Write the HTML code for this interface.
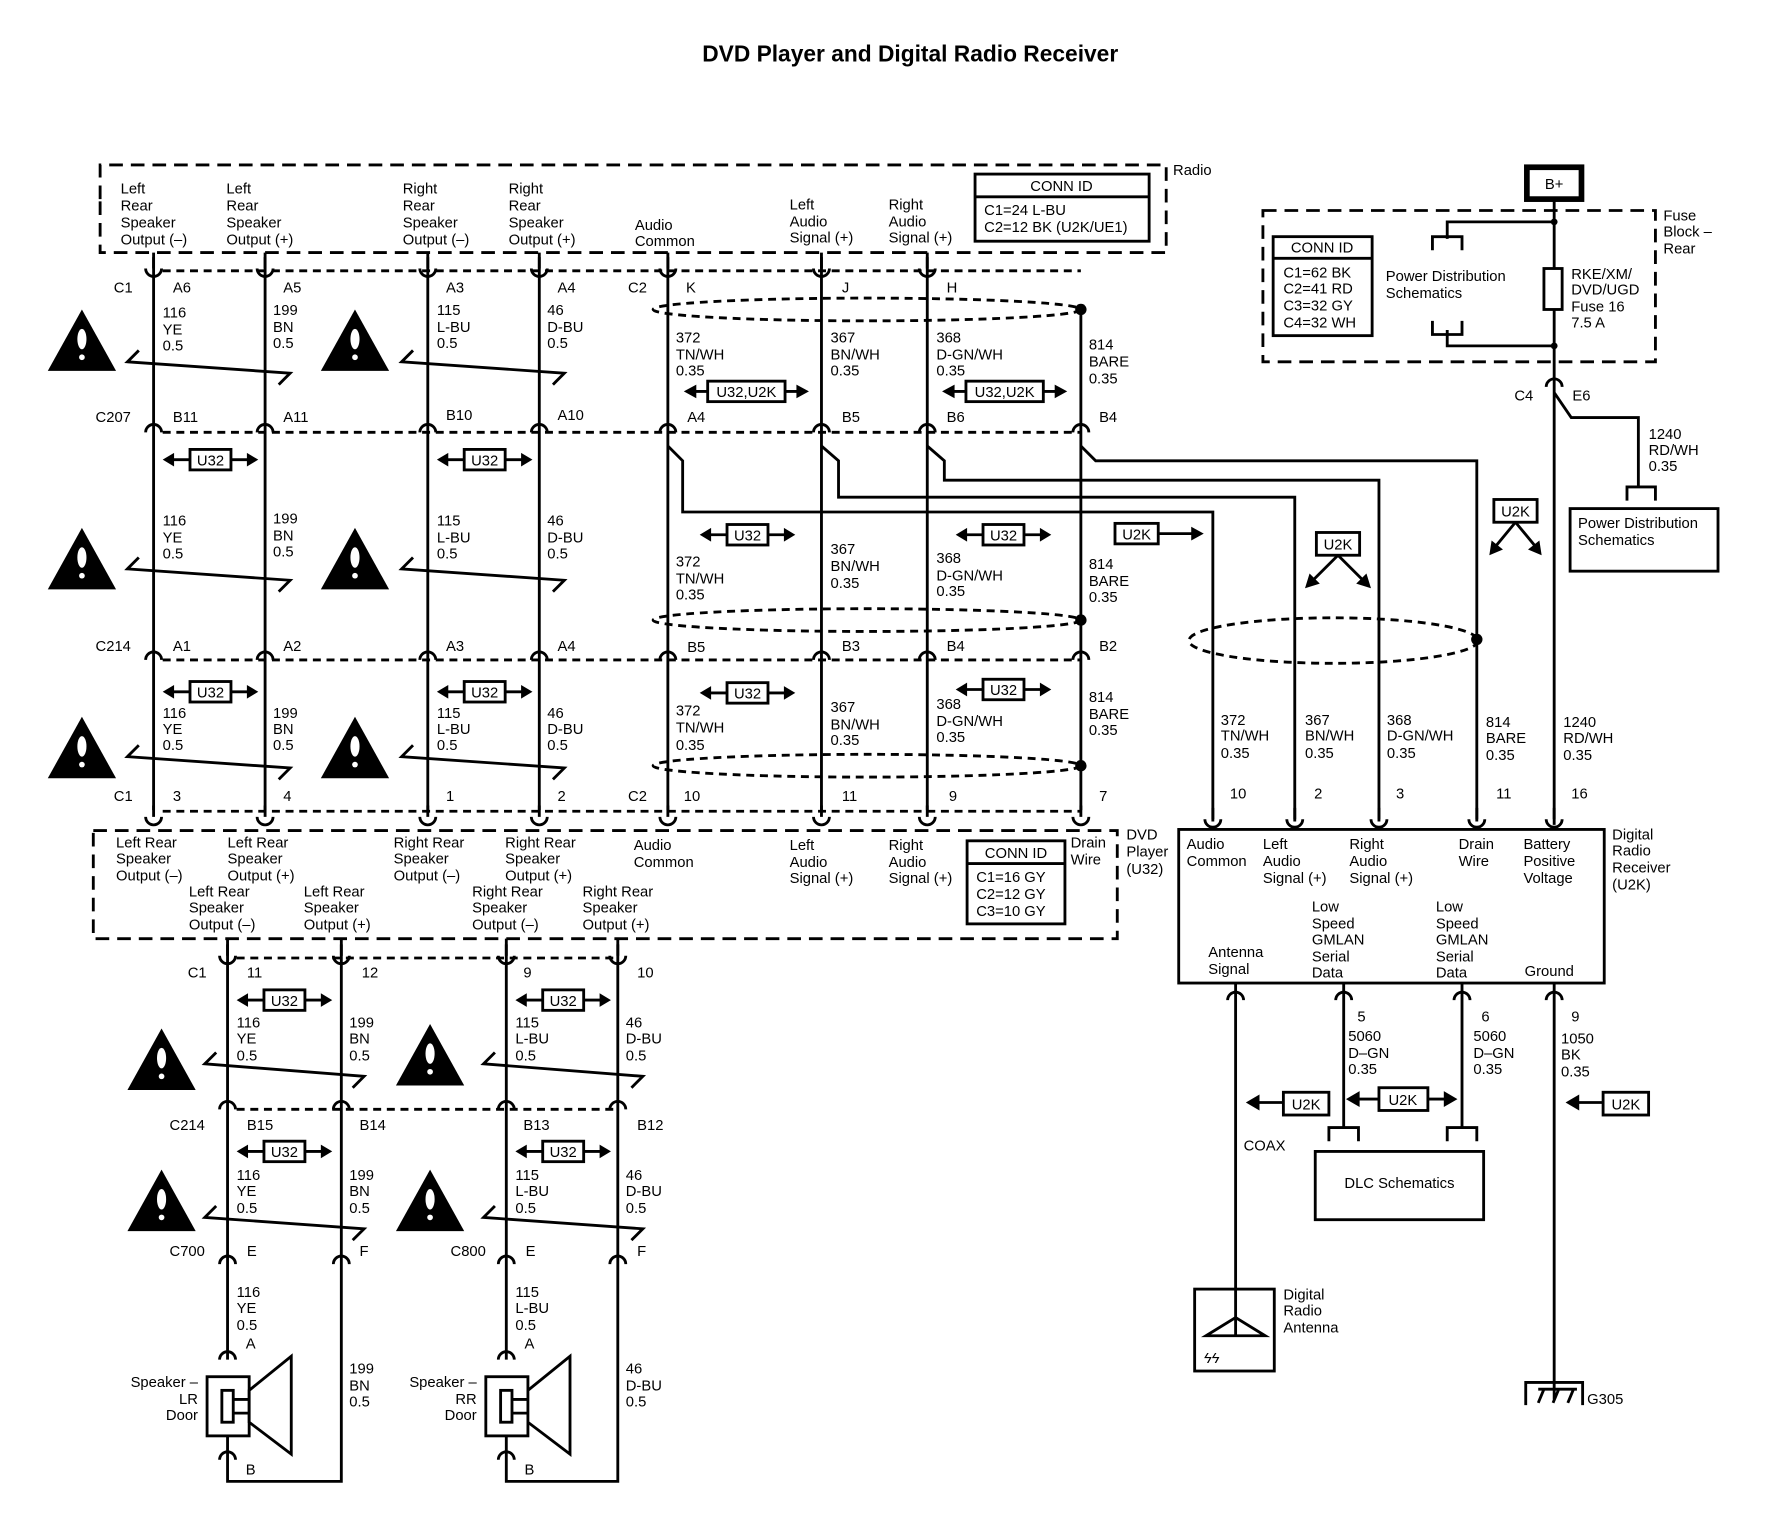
<!DOCTYPE html>
<html><head><meta charset="utf-8"><style>
html,body{margin:0;padding:0;background:#fff}
svg{display:block}
text{font-family:"Liberation Sans",sans-serif;font-size:13px;fill:#000}
.t{font-size:20px;font-weight:bold}
.w{stroke:#000;stroke-width:2.5;fill:none}
.d{stroke:#000;stroke-width:2.5;fill:none;stroke-dasharray:12,7}
.ds{stroke:#000;stroke-width:2.5;fill:none;stroke-dasharray:7,5}
.b{stroke:#000;stroke-width:2.5;fill:#fff}
</style></head><body>
<svg width="1784" height="1536" viewBox="0 0 1568 1350" preserveAspectRatio="none" xmlns="http://www.w3.org/2000/svg">
<defs>
<path id="cup" d="M-7,7 A7,7 0 0 1 7,7" class="w"/>
<path id="cupd" d="M-7,-4 A7,7 0 0 0 7,-4 M0,-14 V-4" class="w" stroke-width="2.5"/>
<g id="warn"><polygon points="0,-28 30,26 -30,26" fill="#000"/><ellipse cx="0" cy="-2" rx="4" ry="9" fill="#fff"/><circle cx="0" cy="14" r="2.5" fill="#fff"/></g>
<g id="u32"><path d="M-34,0 H34" class="w"/><path d="M-42,0 l10,-6 v12z M42,0 l-10,-6 v12z" fill="#000"/><rect x="-18" y="-9" width="36" height="18" class="b"/><text x="0" y="5" text-anchor="middle">U32</text></g>
<g id="u32w"><path d="M-46,0 H46" class="w"/><path d="M-55,0 l11,-6 v12z M55,0 l-11,-6 v12z" fill="#000"/><rect x="-34" y="-9" width="68" height="18" class="b"/><text x="0" y="5" text-anchor="middle">U32,U2K</text></g>
</defs>

<text class="t" x="800" y="54" text-anchor="middle">DVD Player and Digital Radio Receiver</text>

<path class="d" d="M88,175 V145 H1025 V222 H88 V175"/>
<text x="1031" y="154">Radio</text>
<rect x="857" y="153" width="153" height="59" class="b"/><line x1="857" y1="173" x2="1010" y2="173" class="w"/>
<text x="933" y="168" text-anchor="middle">CONN ID</text>
<text x="865" y="189">C1=24 L-BU</text><text x="865" y="204">C2=12 BK (U2K/UE1)</text>
<g>
<text x="106" y="170">Left</text><text x="106" y="185">Rear</text><text x="106" y="200">Speaker</text><text x="106" y="215">Output (–)</text>
<text x="199" y="170">Left</text><text x="199" y="185">Rear</text><text x="199" y="200">Speaker</text><text x="199" y="215">Output (+)</text>
<text x="354" y="170">Right</text><text x="354" y="185">Rear</text><text x="354" y="200">Speaker</text><text x="354" y="215">Output (–)</text>
<text x="447" y="170">Right</text><text x="447" y="185">Rear</text><text x="447" y="200">Speaker</text><text x="447" y="215">Output (+)</text>
<text x="558" y="202">Audio</text><text x="558" y="216">Common</text>
<text x="694" y="184">Left</text><text x="694" y="199">Audio</text><text x="694" y="213">Signal (+)</text>
<text x="781" y="184">Right</text><text x="781" y="199">Audio</text><text x="781" y="213">Signal (+)</text>
</g>

<g class="w">
<path d="M135,222V712M233,222V712M376,222V712M474,222V712M587,222V712M722,222V712M815,222V712M950,272V712"/>
</g>
<path class="ds" d="M143,238H950 M143,380H950 M143,580H950 M143,713H950"/>
<g fill="#fff">
<use href="#cupd" x="135" y="240"/><use href="#cupd" x="233" y="240"/><use href="#cupd" x="376" y="240"/><use href="#cupd" x="474" y="240"/><use href="#cupd" x="587" y="240"/><use href="#cupd" x="722" y="240"/><use href="#cupd" x="815" y="240"/>
<use href="#cup" x="135" y="373"/><use href="#cup" x="233" y="373"/><use href="#cup" x="376" y="373"/><use href="#cup" x="474" y="373"/><use href="#cup" x="587" y="373"/><use href="#cup" x="722" y="373"/><use href="#cup" x="815" y="373"/><use href="#cup" x="950" y="373"/>
<use href="#cup" x="135" y="573"/><use href="#cup" x="233" y="573"/><use href="#cup" x="376" y="573"/><use href="#cup" x="474" y="573"/><use href="#cup" x="587" y="573"/><use href="#cup" x="722" y="573"/><use href="#cup" x="815" y="573"/><use href="#cup" x="950" y="573"/>
<use href="#cupd" x="135" y="722"/><use href="#cupd" x="233" y="722"/><use href="#cupd" x="376" y="722"/><use href="#cupd" x="474" y="722"/><use href="#cupd" x="587" y="722"/><use href="#cupd" x="722" y="722"/><use href="#cupd" x="815" y="722"/><use href="#cupd" x="950" y="722"/>
</g>
<g>
<text x="100" y="257">C1</text><text x="152" y="257">A6</text><text x="249" y="257">A5</text><text x="392" y="257">A3</text><text x="490" y="257">A4</text><text x="552" y="257">C2</text><text x="603" y="257">K</text><text x="740" y="257">J</text><text x="832" y="257">H</text>
<text x="84" y="371">C207</text><text x="152" y="371">B11</text><text x="249" y="371">A11</text><text x="392" y="369">B10</text><text x="490" y="369">A10</text><text x="604" y="371">A4</text><text x="740" y="371">B5</text><text x="832" y="371">B6</text><text x="966" y="371">B4</text>
<text x="84" y="572">C214</text><text x="152" y="572">A1</text><text x="249" y="572">A2</text><text x="392" y="572">A3</text><text x="490" y="572">A4</text><text x="604" y="573">B5</text><text x="740" y="572">B3</text><text x="832" y="572">B4</text><text x="966" y="572">B2</text>
<text x="100" y="704">C1</text><text x="152" y="704">3</text><text x="249" y="704">4</text><text x="392" y="704">1</text><text x="490" y="704">2</text><text x="552" y="704">C2</text><text x="601" y="704">10</text><text x="740" y="704">11</text><text x="834" y="704">9</text><text x="966" y="704">7</text>
</g>
<g>
<text x="143" y="279">116</text><text x="143" y="294">YE</text><text x="143" y="308">0.5</text>
<text x="240" y="277">199</text><text x="240" y="292">BN</text><text x="240" y="306">0.5</text>
<text x="384" y="277">115</text><text x="384" y="292">L-BU</text><text x="384" y="306">0.5</text>
<text x="481" y="277">46</text><text x="481" y="292">D-BU</text><text x="481" y="306">0.5</text>
<text x="594" y="301">372</text><text x="594" y="316">TN/WH</text><text x="594" y="330">0.35</text>
<text x="730" y="301">367</text><text x="730" y="316">BN/WH</text><text x="730" y="330">0.35</text>
<text x="823" y="301">368</text><text x="823" y="316">D-GN/WH</text><text x="823" y="330">0.35</text>
<text x="957" y="307">814</text><text x="957" y="322">BARE</text><text x="957" y="337">0.35</text>
<text x="143" y="462">116</text><text x="143" y="477">YE</text><text x="143" y="491">0.5</text>
<text x="240" y="460">199</text><text x="240" y="475">BN</text><text x="240" y="489">0.5</text>
<text x="384" y="462">115</text><text x="384" y="477">L-BU</text><text x="384" y="491">0.5</text>
<text x="481" y="462">46</text><text x="481" y="477">D-BU</text><text x="481" y="491">0.5</text>
<text x="594" y="498">372</text><text x="594" y="513">TN/WH</text><text x="594" y="527">0.35</text>
<text x="730" y="487">367</text><text x="730" y="502">BN/WH</text><text x="730" y="517">0.35</text>
<text x="823" y="495">368</text><text x="823" y="510">D-GN/WH</text><text x="823" y="524">0.35</text>
<text x="957" y="500">814</text><text x="957" y="515">BARE</text><text x="957" y="529">0.35</text>
<text x="143" y="631">116</text><text x="143" y="645">YE</text><text x="143" y="659">0.5</text>
<text x="240" y="631">199</text><text x="240" y="645">BN</text><text x="240" y="659">0.5</text>
<text x="384" y="631">115</text><text x="384" y="645">L-BU</text><text x="384" y="659">0.5</text>
<text x="481" y="631">46</text><text x="481" y="645">D-BU</text><text x="481" y="659">0.5</text>
<text x="594" y="629">372</text><text x="594" y="644">TN/WH</text><text x="594" y="659">0.35</text>
<text x="730" y="626">367</text><text x="730" y="641">BN/WH</text><text x="730" y="655">0.35</text>
<text x="823" y="623">368</text><text x="823" y="638">D-GN/WH</text><text x="823" y="652">0.35</text>
<text x="957" y="617">814</text><text x="957" y="632">BARE</text><text x="957" y="646">0.35</text>
</g>
<g class="w">
<path d="M122,308 L112,318 L255,328 L245,338"/>
<path d="M363,308 L353,318 L496,328 L486,338"/>
<path d="M122,490 L112,500 L255,510 L245,520"/>
<path d="M363,490 L353,500 L496,510 L486,520"/>
<path d="M122,655 L112,665 L255,675 L245,685"/>
<path d="M363,655 L353,665 L496,675 L486,685"/>
</g>
<use href="#warn" x="72" y="300"/><use href="#warn" x="312" y="300"/>
<use href="#warn" x="72" y="492"/><use href="#warn" x="312" y="492"/>
<use href="#warn" x="72" y="658"/><use href="#warn" x="312" y="658"/>
<g class="ds"><ellipse cx="762" cy="272" rx="188" ry="10"/><ellipse cx="762" cy="545" rx="188" ry="10"/><ellipse cx="762" cy="673" rx="188" ry="10"/><ellipse cx="1172" cy="563" rx="127" ry="20"/></g>
<g fill="#000"><circle cx="950" cy="272" r="5"/><circle cx="950" cy="545" r="5"/><circle cx="950" cy="673" r="5"/><circle cx="1298" cy="562" r="5"/></g>
<use href="#u32" x="185" y="404"/><use href="#u32" x="426" y="404"/>
<use href="#u32" x="185" y="608"/><use href="#u32" x="426" y="608"/>
<use href="#u32" x="657" y="470"/><use href="#u32" x="882" y="470"/>
<use href="#u32" x="657" y="609"/><use href="#u32" x="882" y="606"/>
<use href="#u32w" x="656" y="344"/><use href="#u32w" x="883" y="344"/>
<g><rect x="980" y="460" width="38" height="18" class="b"/><text x="999" y="474" text-anchor="middle">U2K</text><path d="M1018,469H1050" class="w"/><path d="M1058,469l-11,-6v12z" fill="#000"/></g>

<g class="w">
<path d="M587,392 L600,405 V450 H1066 V722"/>
<path d="M722,392 L737,405 V437 H1138 V722"/>
<path d="M815,392 L830,405 V422 H1212 V722"/>
<path d="M950,392 L963,405 H1298 V722"/>
</g>
<g><rect x="1157" y="468" width="38" height="20" class="b"/><text x="1176" y="483" text-anchor="middle">U2K</text>
<path d="M1176,488 L1152,512 M1176,488 L1200,512" class="w"/><path d="M1147,517 l4,-13 l9,9z M1205,517 l-4,-13 l-9,9z" fill="#000"/>
<rect x="1313" y="439" width="38" height="20" class="b"/><text x="1332" y="454" text-anchor="middle">U2K</text>
<path d="M1332,459 L1313,482 M1332,459 L1351,482" class="w"/><path d="M1309,488 l2,-13 l10,8z M1355,488 l-2,-13 l-10,8z" fill="#000"/></g>

<path class="d" d="M82,730 H982 V825 H82 Z"/>
<g>
<text x="102" y="745">Left Rear</text><text x="102" y="759">Speaker</text><text x="102" y="774">Output (–)</text>
<text x="200" y="745">Left Rear</text><text x="200" y="759">Speaker</text><text x="200" y="774">Output (+)</text>
<text x="346" y="745">Right Rear</text><text x="346" y="759">Speaker</text><text x="346" y="774">Output (–)</text>
<text x="444" y="745">Right Rear</text><text x="444" y="759">Speaker</text><text x="444" y="774">Output (+)</text>
<text x="557" y="747">Audio</text><text x="557" y="762">Common</text>
<text x="694" y="747">Left</text><text x="694" y="762">Audio</text><text x="694" y="776">Signal (+)</text>
<text x="781" y="747">Right</text><text x="781" y="762">Audio</text><text x="781" y="776">Signal (+)</text>
<text x="941" y="745">Drain</text><text x="941" y="760">Wire</text>
<text x="166" y="788">Left Rear</text><text x="166" y="802">Speaker</text><text x="166" y="817">Output (–)</text>
<text x="267" y="788">Left Rear</text><text x="267" y="802">Speaker</text><text x="267" y="817">Output (+)</text>
<text x="415" y="788">Right Rear</text><text x="415" y="802">Speaker</text><text x="415" y="817">Output (–)</text>
<text x="512" y="788">Right Rear</text><text x="512" y="802">Speaker</text><text x="512" y="817">Output (+)</text>
<text x="990" y="738">DVD</text><text x="990" y="753">Player</text><text x="990" y="768">(U32)</text>
</g>
<rect x="850" y="739" width="86" height="73" class="b"/><line x1="850" y1="759" x2="936" y2="759" class="w"/>
<text x="893" y="754" text-anchor="middle">CONN ID</text>
<text x="858" y="775">C1=16 GY</text><text x="858" y="790">C2=12 GY</text><text x="858" y="805">C3=10 GY</text>

<path class="ds" d="M208,842H543 M208,975H543"/>
<g class="w"><path d="M200,825V1195 M300,825V1302 H200 V1262 M445,825V1195 M543,825V1302 H445 V1262"/></g>
<use href="#cupd" x="200" y="844"/><use href="#cupd" x="300" y="844"/><use href="#cupd" x="445" y="844"/><use href="#cupd" x="543" y="844"/>
<use href="#cup" x="200" y="968"/><use href="#cup" x="300" y="968"/><use href="#cup" x="445" y="968"/><use href="#cup" x="543" y="968"/>
<use href="#cup" x="200" y="1104"/><use href="#cup" x="300" y="1104"/><use href="#cup" x="445" y="1104"/><use href="#cup" x="543" y="1104"/>
<use href="#cup" x="200" y="1188"/><use href="#cup" x="445" y="1188"/>
<use href="#cup" x="200" y="1276"/><use href="#cup" x="445" y="1276"/>
<g>
<text x="165" y="859">C1</text><text x="217" y="859">11</text><text x="318" y="859">12</text><text x="460" y="859">9</text><text x="560" y="859">10</text>
<text x="149" y="993">C214</text><text x="217" y="993">B15</text><text x="316" y="993">B14</text><text x="460" y="993">B13</text><text x="560" y="993">B12</text>
<text x="149" y="1104">C700</text><text x="217" y="1104">E</text><text x="316" y="1104">F</text><text x="396" y="1104">C800</text><text x="462" y="1104">E</text><text x="560" y="1104">F</text>
<text x="208" y="903">116</text><text x="208" y="917">YE</text><text x="208" y="932">0.5</text>
<text x="307" y="903">199</text><text x="307" y="917">BN</text><text x="307" y="932">0.5</text>
<text x="453" y="903">115</text><text x="453" y="917">L-BU</text><text x="453" y="932">0.5</text>
<text x="550" y="903">46</text><text x="550" y="917">D-BU</text><text x="550" y="932">0.5</text>
<text x="208" y="1037">116</text><text x="208" y="1051">YE</text><text x="208" y="1066">0.5</text>
<text x="307" y="1037">199</text><text x="307" y="1051">BN</text><text x="307" y="1066">0.5</text>
<text x="453" y="1037">115</text><text x="453" y="1051">L-BU</text><text x="453" y="1066">0.5</text>
<text x="550" y="1037">46</text><text x="550" y="1051">D-BU</text><text x="550" y="1066">0.5</text>
<text x="208" y="1140">116</text><text x="208" y="1154">YE</text><text x="208" y="1169">0.5</text>
<text x="453" y="1140">115</text><text x="453" y="1154">L-BU</text><text x="453" y="1169">0.5</text>
<text x="216" y="1185">A</text><text x="461" y="1185">A</text><text x="216" y="1296">B</text><text x="461" y="1296">B</text>
<text x="307" y="1207">199</text><text x="307" y="1222">BN</text><text x="307" y="1236">0.5</text>
<text x="550" y="1207">46</text><text x="550" y="1222">D-BU</text><text x="550" y="1236">0.5</text>
<text x="174" y="1219" text-anchor="end">Speaker –</text><text x="174" y="1234" text-anchor="end">LR</text><text x="174" y="1248" text-anchor="end">Door</text>
<text x="419" y="1219" text-anchor="end">Speaker –</text><text x="419" y="1234" text-anchor="end">RR</text><text x="419" y="1248" text-anchor="end">Door</text>
</g>
<g class="w">
<path d="M190,925 L180,935 L320,946 L310,956"/>
<path d="M435,925 L425,935 L565,946 L555,956"/>
<path d="M190,1060 L180,1070 L320,1080 L310,1090"/>
<path d="M435,1060 L425,1070 L565,1080 L555,1090"/>
</g>
<use href="#warn" x="142" y="932"/><use href="#warn" x="378" y="928"/>
<use href="#warn" x="142" y="1056"/><use href="#warn" x="378" y="1056"/>
<use href="#u32" x="250" y="879"/><use href="#u32" x="495" y="879"/>
<use href="#u32" x="250" y="1012"/><use href="#u32" x="495" y="1012"/>
<g class="b">
<rect x="182" y="1210" width="37" height="52"/><rect x="195" y="1222" width="10" height="28"/><path d="M205,1230 H230 V1242 H205" class="w"/><polygon points="219,1222 256,1192 256,1278 219,1250"/>
<rect x="427" y="1210" width="37" height="52"/><rect x="440" y="1222" width="10" height="28"/><path d="M450,1230 H475 V1242 H450" class="w"/><polygon points="464,1222 501,1192 501,1278 464,1250"/>
</g>

<path class="d" d="M1110,185 H1455 V318 H1110 Z"/>
<text x="1462" y="194">Fuse</text><text x="1462" y="208">Block –</text><text x="1462" y="223">Rear</text>
<rect x="1342" y="147" width="48" height="28" fill="#fff" stroke="#000" stroke-width="5"/><text x="1366" y="166" text-anchor="middle">B+</text>
<rect x="1119" y="208" width="87" height="87" class="b"/><line x1="1119" y1="227" x2="1206" y2="227" class="w"/>
<text x="1162" y="222" text-anchor="middle">CONN ID</text>
<text x="1128" y="244">C1=62 BK</text><text x="1128" y="258">C2=41 RD</text><text x="1128" y="273">C3=32 GY</text><text x="1128" y="288">C4=32 WH</text>
<g class="w"><path d="M1366,175V725 M1366,195H1272V210 M1259,220V208H1285V220 M1366,304H1272V290 M1259,282V294H1285V282 M1366,345 L1381,367 H1440 V428 M1430,440V428H1455V440"/></g>
<rect x="1357" y="236" width="16" height="36" class="b"/>
<circle cx="1366" cy="195" r="3"/><circle cx="1366" cy="304" r="3"/>
<text x="1218" y="247">Power Distribution</text><text x="1218" y="262">Schematics</text>
<text x="1381" y="245">RKE/XM/</text><text x="1381" y="259">DVD/UGD</text><text x="1381" y="274">Fuse 16</text><text x="1381" y="288">7.5 A</text>
<use href="#cup" x="1366" y="333"/>
<text x="1331" y="352">C4</text><text x="1382" y="352">E6</text>
<text x="1449" y="386">1240</text><text x="1449" y="400">RD/WH</text><text x="1449" y="414">0.35</text>
<rect x="1380" y="447" width="130" height="55" class="b"/><text x="1387" y="464">Power Distribution</text><text x="1387" y="479">Schematics</text>

<g>
<text x="1073" y="637">372</text><text x="1073" y="651">TN/WH</text><text x="1073" y="666">0.35</text>
<text x="1147" y="637">367</text><text x="1147" y="651">BN/WH</text><text x="1147" y="666">0.35</text>
<text x="1219" y="637">368</text><text x="1219" y="651">D-GN/WH</text><text x="1219" y="666">0.35</text>
<text x="1306" y="639">814</text><text x="1306" y="653">BARE</text><text x="1306" y="668">0.35</text>
<text x="1374" y="639">1240</text><text x="1374" y="653">RD/WH</text><text x="1374" y="668">0.35</text>
<text x="1081" y="702">10</text><text x="1155" y="702">2</text><text x="1227" y="702">3</text><text x="1315" y="702">11</text><text x="1381" y="702">16</text>
</g>
<use href="#cupd" x="1066" y="724"/><use href="#cupd" x="1138" y="724"/><use href="#cupd" x="1212" y="724"/><use href="#cupd" x="1298" y="724"/><use href="#cupd" x="1366" y="724"/>
<rect x="1036" y="729" width="374" height="135" class="b"/>
<g>
<text x="1043" y="746">Audio</text><text x="1043" y="761">Common</text>
<text x="1110" y="746">Left</text><text x="1110" y="761">Audio</text><text x="1110" y="776">Signal (+)</text>
<text x="1186" y="746">Right</text><text x="1186" y="761">Audio</text><text x="1186" y="776">Signal (+)</text>
<text x="1282" y="746">Drain</text><text x="1282" y="761">Wire</text>
<text x="1339" y="746">Battery</text><text x="1339" y="761">Positive</text><text x="1339" y="776">Voltage</text>
<text x="1417" y="738">Digital</text><text x="1417" y="752">Radio</text><text x="1417" y="767">Receiver</text><text x="1417" y="782">(U2K)</text>
<text x="1153" y="801">Low</text><text x="1153" y="816">Speed</text><text x="1153" y="830">GMLAN</text><text x="1153" y="845">Serial</text><text x="1153" y="859">Data</text>
<text x="1262" y="801">Low</text><text x="1262" y="816">Speed</text><text x="1262" y="830">GMLAN</text><text x="1262" y="845">Serial</text><text x="1262" y="859">Data</text>
<text x="1062" y="841">Antenna</text><text x="1062" y="856">Signal</text>
<text x="1340" y="858">Ground</text>
</g>
<g class="w"><path d="M1086,864V1190 M1181,864V991 M1285,864V991 M1366,864V1230 M1168,1003V991H1194V1003 M1272,1003V991H1298V1003"/></g>
<use href="#cup" x="1086" y="872"/><use href="#cup" x="1181" y="872"/><use href="#cup" x="1285" y="872"/><use href="#cup" x="1366" y="872"/>
<g>
<text x="1193" y="898">5</text><text x="1185" y="915">5060</text><text x="1185" y="930">D–GN</text><text x="1185" y="944">0.35</text>
<text x="1302" y="898">6</text><text x="1295" y="915">5060</text><text x="1295" y="930">D–GN</text><text x="1295" y="944">0.35</text>
<text x="1381" y="898">9</text><text x="1372" y="917">1050</text><text x="1372" y="931">BK</text><text x="1372" y="946">0.35</text>
<text x="1093" y="1011">COAX</text>
</g>
<g>
<rect x="1128" y="960" width="40" height="20" class="b"/><text x="1148" y="975" text-anchor="middle">U2K</text><path d="M1128,969H1105" class="w"/><path d="M1095,969l12,-7v14z" fill="#000"/>
<rect x="1212" y="956" width="43" height="20" class="b"/><text x="1233" y="971" text-anchor="middle">U2K</text><path d="M1212,966H1192 M1255,966H1272" class="w"/><path d="M1183,966l12,-7v14z M1281,966l-12,-7v14z" fill="#000"/>
<rect x="1409" y="960" width="40" height="20" class="b"/><text x="1429" y="975" text-anchor="middle">U2K</text><path d="M1409,969H1386" class="w"/><path d="M1376,969l12,-7v14z" fill="#000"/>
</g>
<rect x="1156" y="1012" width="148" height="60" class="b"/><text x="1230" y="1044" text-anchor="middle">DLC Schematics</text>
<rect x="1050" y="1133" width="70" height="72" class="b"/>
<g class="w"><path d="M1086,1133V1174 M1060,1174 L1086,1158 L1112,1174 Z"/></g>
<text x="1058" y="1198" font-size="14" font-style="italic">ϟϟ</text>
<text x="1128" y="1142">Digital</text><text x="1128" y="1156">Radio</text><text x="1128" y="1171">Antenna</text>
<g class="w"><path d="M1341,1235V1215H1391V1235 M1352,1233l5,-12 M1365,1233l5,-12 M1378,1233l5,-12 M1352,1221H1386"/></g>
<text x="1395" y="1234">G305</text>
</svg>
</body></html>
